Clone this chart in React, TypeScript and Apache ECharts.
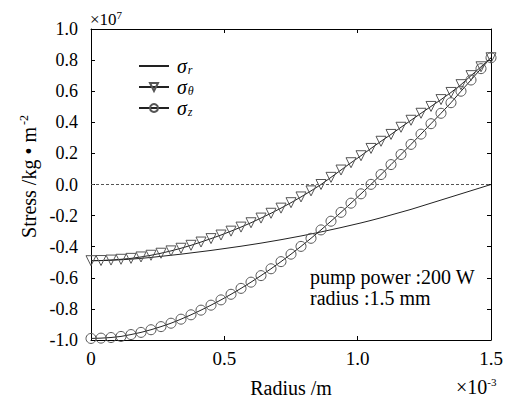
import React, { useEffect, useRef } from "react";
import * as echarts from "echarts";

// Radius (×10^-3 m)
const radius = [
  0, 0.0375, 0.075, 0.1125, 0.15, 0.1875, 0.225, 0.2625, 0.3, 0.3375, 0.375,
  0.4125, 0.45, 0.4875, 0.525, 0.5625, 0.6, 0.6375, 0.675, 0.7125, 0.75,
  0.7875, 0.825, 0.8625, 0.9, 0.9375, 0.975, 1.0125, 1.05, 1.0875, 1.125,
  1.1625, 1.2, 1.2375, 1.275, 1.3125, 1.35, 1.3875, 1.425, 1.4625, 1.5,
];

// Stress (×10^7)
const sigmaR = [
  -0.49, -0.489, -0.487, -0.484, -0.48, -0.475, -0.469, -0.462, -0.455, -0.448,
  -0.44, -0.432, -0.424, -0.415, -0.406, -0.397, -0.387, -0.377, -0.366, -0.355,
  -0.343, -0.331, -0.318, -0.305, -0.291, -0.277, -0.262, -0.247, -0.231, -0.214,
  -0.196, -0.178, -0.16, -0.14, -0.12, -0.1, -0.08, -0.06, -0.04, -0.02, 0.0,
];

const sigmaTheta = [
  -0.49, -0.489, -0.486, -0.481, -0.475, -0.466, -0.455, -0.442, -0.427, -0.41,
  -0.391, -0.37, -0.348, -0.325, -0.3, -0.274, -0.246, -0.216, -0.185, -0.152,
  -0.117, -0.08, -0.041, 0.0, 0.046, 0.093, 0.14, 0.185, 0.232, 0.278,
  0.322, 0.368, 0.413, 0.458, 0.502, 0.546, 0.592, 0.642, 0.7, 0.757, 0.815,
];

const sigmaZ = [
  -0.99, -0.988, -0.984, -0.977, -0.965, -0.951, -0.934, -0.914, -0.892, -0.866,
  -0.838, -0.808, -0.776, -0.742, -0.706, -0.668, -0.628, -0.586, -0.542, -0.496,
  -0.448, -0.398, -0.346, -0.292, -0.236, -0.179, -0.12, -0.06, 0.001, 0.064,
  0.128, 0.193, 0.258, 0.324, 0.391, 0.458, 0.526, 0.6, 0.672, 0.745, 0.815,
];

const seriesNames = ["r", "theta", "z"];
const legendSub: Record<string, string> = { r: "r", theta: "θ", z: "z" };
const annotation = ["pump power :200 W", "radius :1.5 mm"];

const FONT = "serif";

const tok = (size: number, extra: any = {}) => ({
  fontFamily: FONT,
  fontSize: size,
  font: `${size}px ${FONT}`,
  color: "#000",
  fill: "#000",
  ...extra,
});

export default function App() {
  const ref = useRef<HTMLDivElement>(null);

  useEffect(() => {
    document.body.style.margin = "0";
    if (!ref.current) return;
    const chart = echarts.init(ref.current, undefined, { renderer: "svg" });

    const pair = (ys: number[]) => radius.map((x, i) => [x, ys[i]]);
    const lineColor = "#222";
    const markColor = "#555";

    const frameAxis = {
      axisLine: { show: true, onZero: false, lineStyle: { color: "#000", width: 1 } },
      axisTick: { show: true, inside: true, length: 4, lineStyle: { color: "#000" } },
      splitLine: { show: false },
    };

    chart.setOption({
      animation: false,
      textStyle: { fontFamily: FONT, color: "#000" },
      grid: { left: 91, right: 22, top: 29, bottom: 60 },
      legend: {
        left: 138,
        top: 56,
        padding: 0,
        orient: "vertical",
        itemWidth: 30,
        itemHeight: 10,
        itemGap: 1,
        data: seriesNames,
        formatter: (name: string) => `{s|σ}{sub|${legendSub[name]}}`,
        textStyle: {
          fontFamily: FONT,
          color: "#000",
          rich: {
            s: { fontFamily: FONT, fontStyle: "italic", fontSize: 20, lineHeight: 20, padding: [0, 0, 0, 3] },
            sub: {
              fontFamily: FONT,
              fontStyle: "italic",
              fontSize: 12,
              lineHeight: 12,
              verticalAlign: "bottom",
              padding: [0, 0, 0, 1],
            },
          },
        },
      },
      xAxis: [
        {
          type: "value",
          min: 0,
          max: 1.5,
          interval: 0.5,
          position: "bottom",
          ...frameAxis,
          name: "Radius /m",
          nameLocation: "middle",
          nameGap: 38,
          nameTextStyle: { fontFamily: FONT, fontSize: 20, color: "#000" },
          axisLabel: {
            fontFamily: FONT,
            fontSize: 19,
            color: "#000",
            margin: 9,
            formatter: (v: number) => (v === 0 ? "0" : v.toFixed(1)),
          },
        },
        {
          type: "value",
          min: 0,
          max: 1.5,
          interval: 0.5,
          position: "top",
          ...frameAxis,
          axisLabel: { show: false },
        },
      ],
      yAxis: [
        {
          type: "value",
          min: -1,
          max: 1,
          interval: 0.2,
          position: "left",
          ...frameAxis,
          name: "{a|Stress /kg • m}{sup|-2}",
          nameLocation: "middle",
          nameRotate: 90,
          nameGap: 50,
          nameTextStyle: {
            fontFamily: FONT,
            fontSize: 20,
            color: "#000",
            padding: [0, 0, 0, 16],
            rich: {
              a: { fontFamily: FONT, fontSize: 20, lineHeight: 22 },
              sup: { fontFamily: FONT, fontSize: 12, lineHeight: 12, verticalAlign: "top", padding: [0, 0, 0, 2] },
            },
          },
          axisLabel: {
            fontFamily: FONT,
            fontSize: 18,
            color: "#000",
            margin: 13,
            formatter: (v: number) => v.toFixed(1),
          },
        },
        {
          type: "value",
          min: -1,
          max: 1,
          interval: 0.2,
          position: "right",
          ...frameAxis,
          axisLabel: { show: false },
        },
      ],
      series: [
        {
          name: "r",
          type: "line",
          data: pair(sigmaR),
          symbol: "none",
          lineStyle: { color: lineColor, width: 1 },
          itemStyle: { color: "transparent", borderWidth: 0 },
          z: 3,
          markLine: {
            silent: true,
            symbol: "none",
            label: { show: false },
            lineStyle: { color: "#555", type: [3, 2], width: 1 },
            data: [{ yAxis: 0 }],
          },
        },
        {
          name: "theta",
          type: "line",
          data: pair(sigmaTheta),
          symbol: "triangle",
          symbolRotate: 180,
          symbolSize: 10,
          showAllSymbol: true,
          lineStyle: { color: lineColor, width: 1 },
          itemStyle: { color: "transparent", borderColor: markColor, borderWidth: 1 },
        },
        {
          name: "z",
          type: "line",
          data: pair(sigmaZ),
          symbol: "circle",
          symbolSize: 10,
          showAllSymbol: true,
          lineStyle: { color: lineColor, width: 1 },
          itemStyle: { color: "transparent", borderColor: markColor, borderWidth: 1 },
        },
      ],
      graphic: [
        {
          type: "text",
          left: 90,
          top: 9,
          style: {
            text: "{a|×10}{sup|7}",
            fontFamily: FONT,
            fontSize: 17,
            fill: "#000",
            rich: {
              a: tok(17, { lineHeight: 20 }),
              sup: tok(11, { lineHeight: 11, verticalAlign: "top" }),
            },
          },
        },
        {
          type: "text",
          left: 456,
          top: 376,
          style: {
            text: "{a|×10}{sup|-3}",
            fontFamily: FONT,
            fontSize: 20,
            fill: "#000",
            rich: {
              a: tok(20, { lineHeight: 22 }),
              sup: tok(11, { lineHeight: 11, verticalAlign: "top" }),
            },
          },
        },
        {
          type: "text",
          left: 310,
          top: 266,
          style: {
            text: annotation.join("\n"),
            fontFamily: FONT,
            fontSize: 20,
            lineHeight: 21,
            fill: "#000",
          },
        },
      ],
    });

    return () => chart.dispose();
  }, []);

  return <div ref={ref} style={{ width: 513, height: 403 }} />;
}
